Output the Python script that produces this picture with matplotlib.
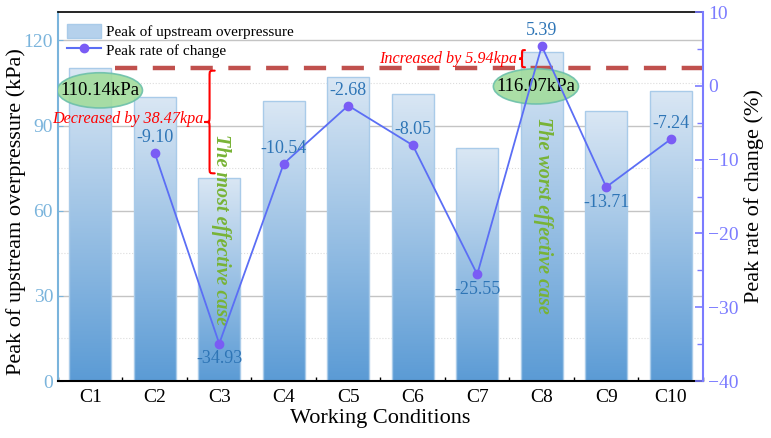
import matplotlib
matplotlib.use("Agg")
import matplotlib.pyplot as plt
import numpy as np
from matplotlib.patches import Ellipse, Patch, PathPatch
from matplotlib.path import Path
from matplotlib.lines import Line2D
from matplotlib.colors import LinearSegmentedColormap
from matplotlib.ticker import MultipleLocator, FixedLocator

plt.rcParams['font.family'] = ['Liberation Serif', 'DejaVu Serif']

# data
conditions = ["C1", "C2", "C3", "C4", "C5", "C6", "C7", "C8", "C9", "C10"]
overpressure = [110.14, 100.12, 71.67, 98.53, 107.19, 101.27, 82.00, 116.07, 95.04, 102.17]
rate_conditions = conditions[1:]
rates = [-9.10, -34.93, -10.54, -2.68, -8.05, -25.55, 5.39, -13.71, -7.24]
label_below = ["C3", "C7", "C9"]
decrease_txt = "Decreased by 38.47kpa"
increase_txt = "Increased by 5.94kpa"

x = np.arange(1, len(conditions) + 1)
xr = x[1:]

fig = plt.figure(figsize=(7.71, 4.38), dpi=100)
ax = fig.add_axes([0.0752, 0.130, 0.8366, 0.8426])
ax2 = ax.twinx()

# gradient bars
cmap = LinearSegmentedColormap.from_list("bar", ["#5b9bd5", "#dae7f4"])
grad = np.linspace(0, 1, 256).reshape(-1, 1)
bw = 0.65
bars = ax.bar(x, overpressure, width=bw, facecolor="none", edgecolor="#a9cbe9",
              linewidth=1, zorder=1.2)
for b, h in zip(bars, overpressure):
    im = ax.imshow(grad, extent=[b.get_x(), b.get_x() + bw, 0, h], origin="lower",
                   cmap=cmap, aspect="auto", zorder=1.1)
    im.set_clip_path(b)

ax.set_xlim(0.5, 10.5)
ax.set_ylim(0, 130)
ax.set_xticks(x)
ax.set_xticklabels(conditions, fontsize=14)
ax.xaxis.set_minor_locator(FixedLocator(np.append(x - 0.5, 10.5)))
ax.yaxis.set_major_locator(MultipleLocator(30))
ax.yaxis.set_minor_locator(MultipleLocator(15))
ax.set_axisbelow(True)
ax.grid(axis="y", which="major", color="#c4c4c4", linewidth=1)
ax.grid(axis="y", which="minor", color="#dcdcdc", linewidth=0.8, linestyle=":")
ax.tick_params(axis="x", direction="in", length=6, width=1.2, pad=6)
ax.tick_params(axis="x", which="minor", direction="in", length=3, width=1)
ax.tick_params(axis="y", which="both", direction="in", colors="#7ab4dc", labelsize=14)
ax.tick_params(axis="y", which="minor", length=0)
ax.spines["left"].set_color("#7ab4dc")
ax.spines["left"].set_linewidth(1.5)
ax.spines["bottom"].set_linewidth(1.5)
ax.spines["top"].set_linewidth(1.2)
ax.spines["right"].set_visible(False)
ax.set_ylabel("Peak of upstream overpressure (kPa)", fontsize=16)
ax.yaxis.set_label_coords(-0.050, 0.46)
ax.set_xlabel("Working Conditions", fontsize=16, labelpad=2)

# rate line
line_c = "#5b6ef5"
ax2.plot(xr, rates, color=line_c, linewidth=1.3, marker="o", markersize=6,
         markerfacecolor="#7a5cf5", markeredgecolor="#7a5cf5", zorder=5)
ax2.set_ylim(-40, 10)
ax2.yaxis.set_major_locator(MultipleLocator(10))
ax2.yaxis.set_minor_locator(MultipleLocator(5))
ax2.tick_params(axis="y", which="both", direction="in", colors="#7b7bff", labelsize=14)
ax2.tick_params(axis="y", which="major", length=6, width=1.2)
ax2.tick_params(axis="y", which="minor", length=4, width=1)
for s in ["left", "top", "bottom"]:
    ax2.spines[s].set_visible(False)
ax2.spines["right"].set_color("#7b7bff")
ax2.spines["right"].set_linewidth(1.5)
ax2.set_ylabel("Peak rate of change (%)", fontsize=16)
ax2.yaxis.set_label_coords(1.064, 0.5)

for c, xi, r in zip(rate_conditions, xr, rates):
    dy = -11 if c in label_below else 11
    ax2.annotate(f"{r:.2f}", (xi, r), xytext=(0, dy), textcoords="offset points",
                 ha="center", va="center", fontsize=13, color="#2e75b6", zorder=6)

# reference dashed line at C1 level
ref = overpressure[0]
ax.plot([1.38, 10.5], [ref, ref], color="#c0504d", linewidth=3.2,
        dashes=(5, 3.5), zorder=3, clip_on=False)


def brace(axis, xh, y0, y1, w, q, color):
    xm = xh - w / 2
    ym = (y0 + y1) / 2
    verts = [(xh, y0), (xm, y0), (xm, y0), (xm, y0 + q),
             (xm, ym - q),
             (xm, ym), (xm, ym), (xh - w, ym),
             (xm, ym), (xm, ym), (xm, ym + q),
             (xm, y1 - q),
             (xm, y1), (xm, y1), (xh, y1)]
    codes = [Path.MOVETO, Path.CURVE4, Path.CURVE4, Path.CURVE4,
             Path.LINETO,
             Path.CURVE4, Path.CURVE4, Path.CURVE4,
             Path.CURVE4, Path.CURVE4, Path.CURVE4,
             Path.LINETO,
             Path.CURVE4, Path.CURVE4, Path.CURVE4]
    axis.add_patch(PathPatch(Path(verts, codes), fill=False, edgecolor=color,
                             linewidth=1.5, zorder=4, capstyle="round"))
    return ym


ym = brace(ax, 2.93, overpressure[2] + 1.5, ref - 0.8, 0.16, 2.0, "red")
ax.text(2.76, ym + 1.2, decrease_txt, ha="right", va="center",
        fontsize=11.6, style="italic", color="red", zorder=4)
ym = brace(ax, 7.74, ref + 0.4, overpressure[7] + 0.5, 0.09, 1.3, "red")
ax.text(7.62, ym, increase_txt, ha="right", va="center",
        fontsize=11.6, style="italic", color="red", zorder=4)

# ellipse callouts
for xc, yc, v in [(1.15, 102.4, overpressure[0]), (7.91, 103.8, overpressure[7])]:
    ax.add_patch(Ellipse((xc, yc), 1.32, 12.4, facecolor="#a2dc9c", edgecolor="#6cc0aa",
                         linewidth=1.2, alpha=0.9, zorder=3.5))
    ax.text(xc, yc, f"{v:.2f}kPa", ha="center", va="center", fontsize=13.5,
            color="black", zorder=3.6)

green = "#78b336"
ax.text(3.02, 53.5, "The most effective case", rotation=-90, ha="center", va="center",
        fontsize=14.5, style="italic", weight="bold", color=green, zorder=4)
ax.text(8.02, 58.5, "The worst effective case", rotation=-90, ha="center", va="center",
        fontsize=14.5, style="italic", weight="bold", color=green, zorder=4)

# legend
handles = [Patch(facecolor="#b5d1ec", edgecolor="#a9cbe9"),
           Line2D([], [], color=line_c, marker="o", markersize=6,
                  markerfacecolor="#7a5cf5", markeredgecolor="#7a5cf5")]
ax2.legend(handles, ["Peak of upstream overpressure", "Peak rate of change"],
           loc="upper left", bbox_to_anchor=(0.005, 0.985), frameon=False, fontsize=11,
           handlelength=2.2, handleheight=1.1, handletextpad=0.3, labelspacing=0.2,
           borderaxespad=0)

fig.savefig("out.png", dpi=100)
